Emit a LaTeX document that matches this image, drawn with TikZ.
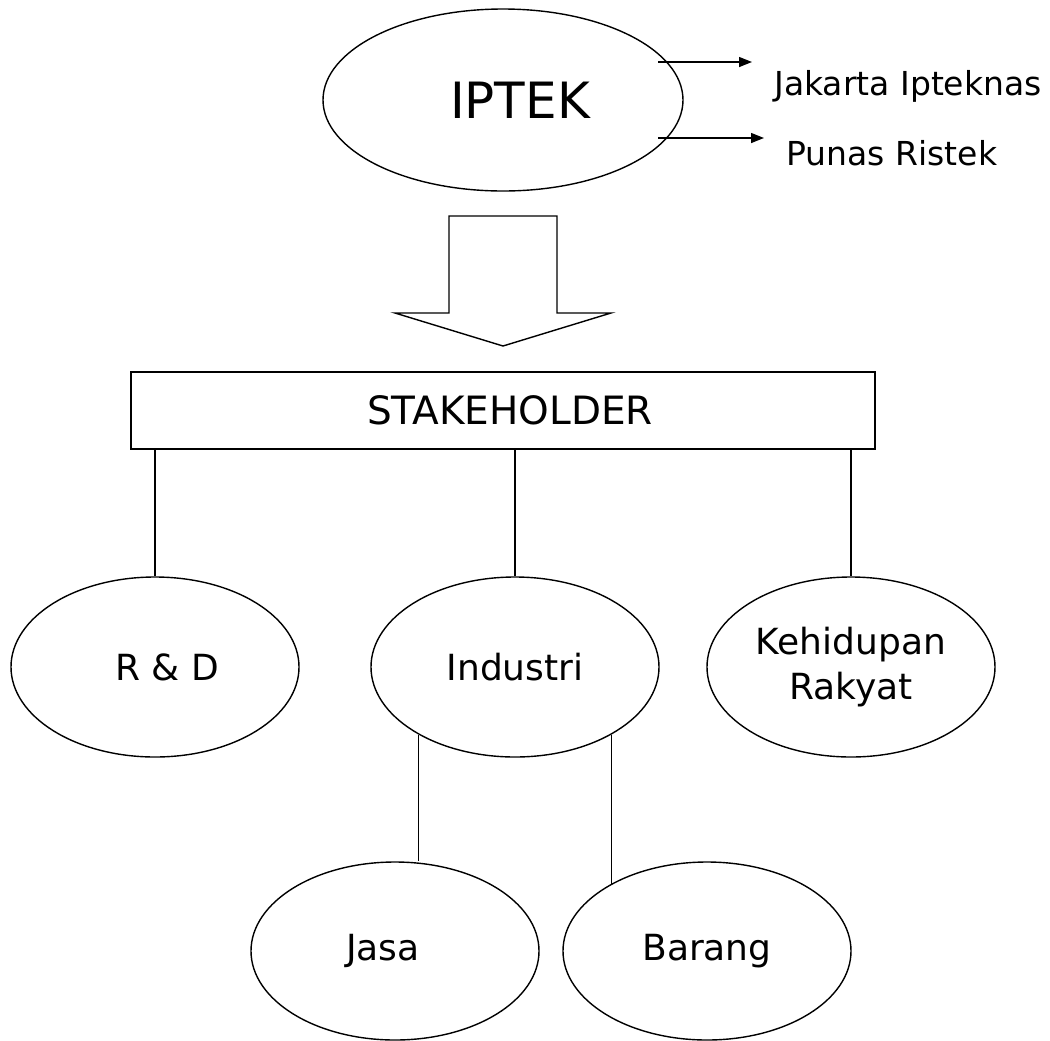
\documentclass[tikz,border=0pt]{standalone}
\usepackage{fontspec}
\setmainfont{DejaVu Sans}
\usetikzlibrary{shapes.geometric, arrows.meta, calc}

\begin{document}
\begin{tikzpicture}[x=0.5pt, y=-0.5pt, font=\fontsize{18}{22.5}\selectfont, >={Triangle[length=6.5pt,width=5pt]},
        bulat/.style={draw, ellipse, line width=0.7pt, inner sep=0pt, minimum width=144pt, minimum height=90pt, align=center},
        kotak/.style={draw, rectangle, line width=0.8pt, inner sep=0pt, minimum width=372pt, minimum height=38.5pt},
        garis/.style={line width=0.7pt},
        ket/.style={anchor=base west, inner sep=0pt, font=\fontsize{16.5}{20}\selectfont}]
        \useasboundingbox (0,0) rectangle (1050,1040);
        \node[bulat, minimum width=180pt, minimum height=91pt, font=\fontsize{25}{30}\selectfont] (iptek) at (503,100) {\hspace*{17pt}IPTEK};
        \node[ket] (jak)   at (774,95)  {Jakarta Ipteknas};
        \node[ket] (punas) at (786,165) {Punas Ristek};
        \coordinate (a1) at (658,62);
        \coordinate (a2) at (658,138);
        \draw[garis, ->, shorten >=11pt] (a1) -- (a1 -| jak.west);
        \draw[garis, ->, shorten >=11pt] (a2) -- (a2 -| punas.west);
        \coordinate (panah) at (503,216);
        \draw[garis] (panah) ++(-54,0) -- ++(108,0) -- ++(0,97) -- ++(54,0) -- ++(-108,33) -- ++(-108,-33) -- ++(54,0) -- cycle;
        \node[kotak, font=\fontsize{19.5}{24}\selectfont] (stake) at (503,410.5) {\hspace*{7pt}STAKEHOLDER};
        \node[bulat] (rnd)   at (155,667) {\hspace*{12pt}R \& D};
        \node[bulat] (ind)   at (515,667) {Industri};
        \node[bulat] (hidup) at (851,667) {Kehidupan\\Rakyat};
        \node[bulat, minimum height=89pt] (jasa)   at (395,951) {Jasa\hspace*{12pt}};
        \node[bulat, minimum height=89pt] (barang) at (707,951) {Barang};
        \foreach \n in {rnd,ind,hidup} \draw[garis] (stake.south -| \n.north) -- (\n.north);
        \draw[garis] (ind.215) -- (ind.215 |- jasa.north);
        \draw[garis] (ind.325) -- (ind.325 |- barang.146);
    \end{tikzpicture}
\end{document}
